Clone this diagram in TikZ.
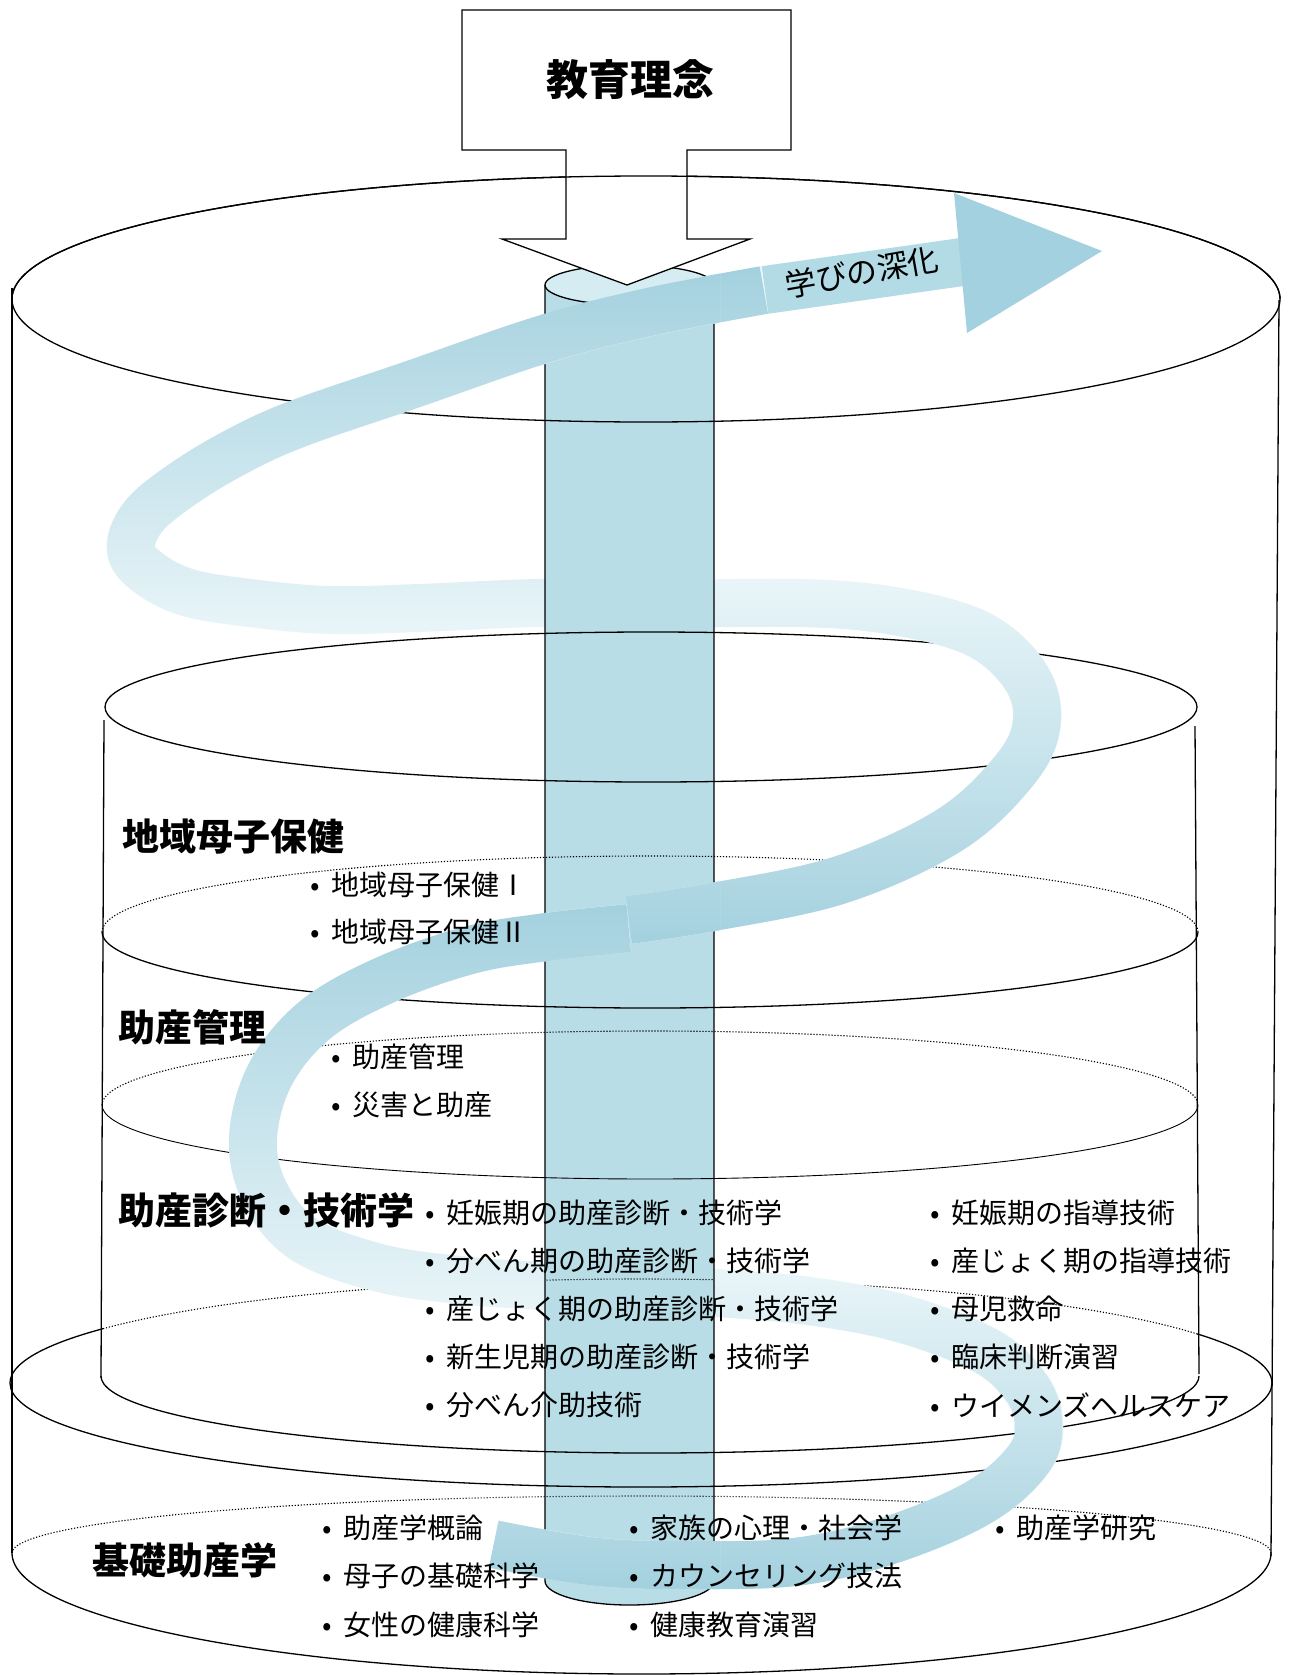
\documentclass[tikz,border=0pt]{standalone}
\usepackage{fontspec}
\setmainfont{Noto Sans CJK JP}
\usetikzlibrary{fadings}

\definecolor{ribdark}{RGB}{164,209,223}
\definecolor{riblight}{RGB}{234,246,249}
\definecolor{ribshaft}{RGB}{178,219,230}
\definecolor{pillarblue}{RGB}{184,221,231}
\definecolor{capblue}{RGB}{212,236,242}

\tikzset{
  edge/.style={line width=1.3pt},
  thinedge/.style={line width=0.9pt},
  dots/.style={line width=1.1pt, dash pattern=on 1.2pt off 1.8pt},
  ribbon/.style={line width=48pt, line cap=butt, line join=round},
  head/.style={anchor=west, inner sep=0pt, font=\bfseries\fontsize{37}{40}\selectfont},
  item/.style={anchor=west, inner sep=0pt, font=\fontsize{28}{30}\selectfont},
}
\newcommand\bul{\makebox[24pt][l]{\hspace{3pt}•}}

% ribbon pieces of the spiral
\newcommand\ribA{plot[smooth, tension=0.6] coordinates {(494,1544) (600,1562) (712,1565) (802,1561) (891,1540) (980,1502) (1030,1458) (1039,1420) (1025,1385) (985,1350) (900,1318) (802,1300) (700,1292)}}
\newcommand\ribB{plot[smooth, tension=0.6] coordinates {(700,1293) (545,1286) (460,1280) (380,1268) (305,1240) (266,1195) (253,1140) (270,1075) (315,1020) (385,980) (470,950) (546,937) (629,928)}}
\newcommand\ribC{plot[smooth, tension=0.6] coordinates {(629,920) (713,907) (840,880) (950,830) (1015,770) (1037,723) (1026,677) (980,635) (900,612) (800,603) (630,605)}}
\newcommand\ribD{plot[smooth, tension=0.6] coordinates {(630,605) (539,603) (420,608) (329,610) (250,603) (186,592) (145,570) (131,547) (145,515) (186,482) (240,450) (300,423) (411,385) (545,339) (650,312) (765,290)}}
\newcommand\ribseg[2]{%
  \draw[ribbon, draw=riblight] #1;
  \draw[ribbon, draw=ribdark, path fading=#2] #1;}

% outlines of the cylinders
\newcommand\cylinderlines{%
  % outer cylinder
  \draw[edge] (646,299) ellipse [x radius=634pt, y radius=123pt];
  \draw[edge] (12,288) -- (12,1553);
  \draw[edge] (1279,300) -- (1271,1556);
  \draw[edge] (12,1553) arc [start angle=180, end angle=360, x radius=629.5pt, y radius=121pt];
  \draw[dots] (12,1553) arc [start angle=180, end angle=0, x radius=629.5pt, y radius=57pt];
  % base layer
  \draw[edge] (10,1383) arc [start angle=180, end angle=360, x radius=631pt, y radius=104pt];
  \draw[edge] (10,1383) arc [start angle=180, end angle=148.5, x radius=631pt, y radius=104pt];
  \draw[dots] (641,1383) ++(148.5:631pt and 104pt) arc [start angle=148.5, end angle=28.2, x radius=631pt, y radius=104pt];
  \draw[edge] (1272,1383) arc [start angle=0, end angle=28.2, x radius=631pt, y radius=104pt];
  % inner cylinder
  \draw[edge] (651,707) ellipse [x radius=546pt, y radius=75pt];
  \draw[edge] (104,720) -- (101,1378);
  \draw[edge] (1195,726) -- (1199,1374);
  \draw[edge] (101,1376) arc [start angle=180, end angle=360, x radius=549pt, y radius=77pt];
  \draw[dots] (102,932) arc [start angle=180, end angle=0, x radius=548pt, y radius=76pt];
  \draw[edge] (102,932) arc [start angle=180, end angle=360, x radius=548pt, y radius=76pt];
  \draw[dots] (102,1105) arc [start angle=180, end angle=0, x radius=548pt, y radius=74pt];
  \draw[thinedge] (102,1105) arc [start angle=180, end angle=360, x radius=548pt, y radius=74pt];
}

\begin{document}
\begin{tikzpicture}[x=1pt, y=-1pt]
  \useasboundingbox (0,0) rectangle (1290,1675);

  \cylinderlines

  % spiral of learning
  \ribseg{\ribA}{north}
  \ribseg{\ribB}{south}
  \ribseg{\ribC}{north}
  \ribseg{\ribD}{south}
  \draw[ribbon, draw=ribshaft] (765,290) -- (962,262);
  \fill[ribdark] (954,193) -- (1102,251) -- (967,333) -- cycle;

  % central pillar
  \fill[pillarblue] (545,285) -- (545,1581) arc [start angle=180, end angle=360, x radius=84.5pt, y radius=24pt] -- (714,285) -- cycle;
  \draw[edge] (545,285) -- (545,1581) arc [start angle=180, end angle=360, x radius=84.5pt, y radius=24pt] -- (714,285);
  \draw[edge, fill=capblue] (629.5,285) ellipse [x radius=84.5pt, y radius=20pt];

  \begin{scope}
    \clip (545,260) rectangle (714,1581);
    \cylinderlines
  \end{scope}
  % ribbon in front of the pillar
  \begin{scope}
    \clip (540,1495) rectangle (720,1620);
    \ribseg{\ribA}{north}
  \end{scope}
  \begin{scope}
    \clip (540,860) rectangle (720,990);
    \ribseg{\ribB}{south}
    \ribseg{\ribC}{north}
  \end{scope}
  \begin{scope}
    \clip (540,250) rectangle (720,420);
    \ribseg{\ribD}{south}
  \end{scope}

  % arrow from the box
  \draw[edge, fill=white] (462,10) -- (791,10) -- (791,150) -- (687,150) -- (687,239) -- (750,239)
    -- (627,285) -- (502,239) -- (566,239) -- (566,150) -- (462,150) -- cycle;
  \draw[edge] (12,299) arc [start angle=180, end angle=0, x radius=634pt, y radius=123pt];
  \node[font=\bfseries\fontsize{42}{44}\selectfont] (rinen) at (630,80) {教育理念};
  \node[rotate=10, font=\fontsize{31}{33}\selectfont] (shinka) at (862,272) {学びの深化};

  % layer titles
  \node[head] (chiiki) at (122,837) {地域母子保健};
  \node[head] (kanri) at (118,1027) {助産管理};
  \node[head] (shindan) at (118,1210) {助産診断・技術学};
  \node[head] (kiso) at (92,1560) {基礎助産学};

  % subjects
  \node[item] (c1) at (307,885) {\bul 地域母子保健Ⅰ};
  \node[item] (c2) at (307,932) {\bul 地域母子保健Ⅱ};

  \node[item] (k1) at (328,1057) {\bul 助産管理};
  \node[item] (k2) at (328,1105) {\bul 災害と助産};

  \node[item] (s1) at (422,1213) {\bul 妊娠期の助産診断・技術学};
  \node[item] (s2) at (422,1261) {\bul 分べん期の助産診断・技術学};
  \node[item] (s3) at (422,1309) {\bul 産じょく期の助産診断・技術学};
  \node[item] (s4) at (422,1357) {\bul 新生児期の助産診断・技術学};
  \node[item] (s5) at (422,1405) {\bul 分べん介助技術};
  \node[item] (t1) at (927,1213) {\bul 妊娠期の指導技術};
  \node[item] (t2) at (927,1261) {\bul 産じょく期の指導技術};
  \node[item] (t3) at (927,1309) {\bul 母児救命};
  \node[item] (t4) at (927,1357) {\bul 臨床判断演習};
  \node[item] (t5) at (927,1405) {\bul ウイメンズヘルスケア};

  \node[item] (b1) at (319,1528) {\bul 助産学概論};
  \node[item] (b2) at (319,1576) {\bul 母子の基礎科学};
  \node[item] (b3) at (319,1625) {\bul 女性の健康科学};
  \node[item] (b4) at (626,1528) {\bul 家族の心理・社会学};
  \node[item] (b5) at (626,1576) {\bul カウンセリング技法};
  \node[item] (b6) at (626,1625) {\bul 健康教育演習};
  \node[item] (b7) at (992,1528) {\bul 助産学研究};
\end{tikzpicture}
\end{document}
